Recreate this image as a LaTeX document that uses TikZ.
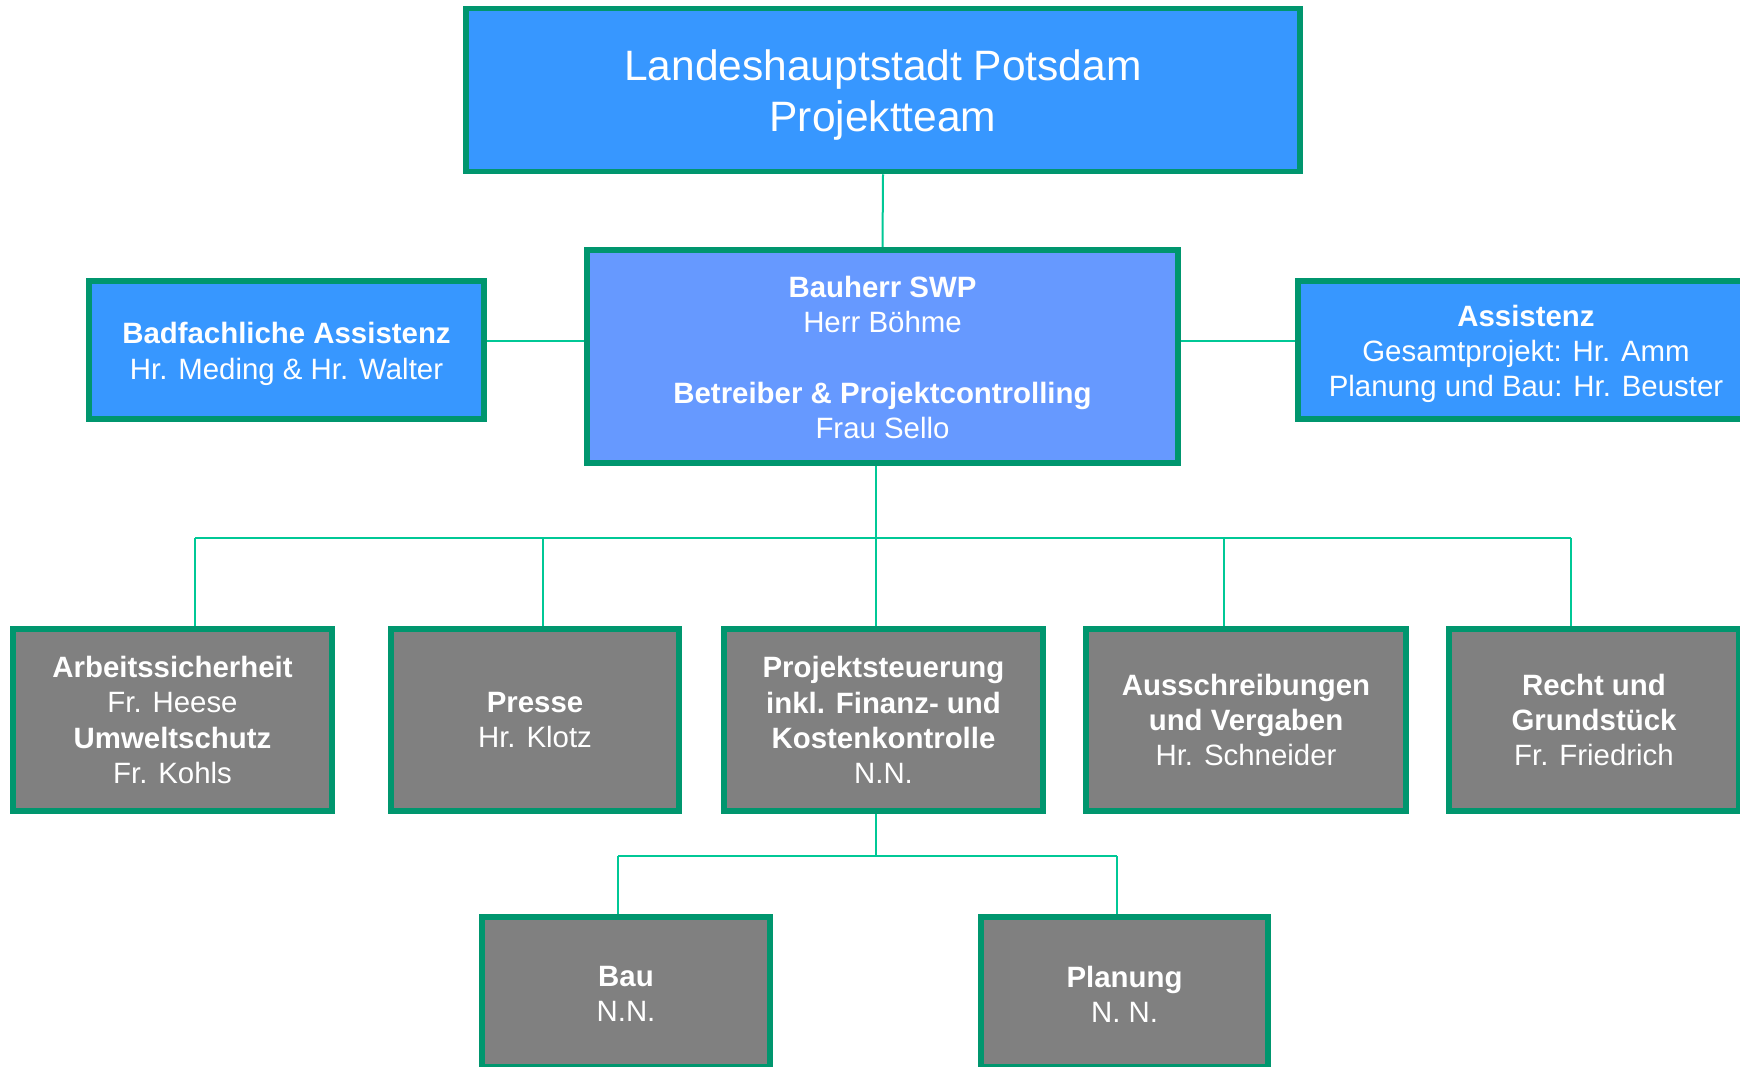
\documentclass[tikz,border=0pt]{standalone}
\usepackage{fontspec}
\setmainfont{Liberation Sans}
\usetikzlibrary{backgrounds}
\definecolor{bordergreen}{RGB}{0,150,110}
\definecolor{linegreen}{RGB}{0,200,150}
\definecolor{topblue}{RGB}{55,151,255}
\definecolor{midblue}{RGB}{102,153,255}
\definecolor{boxgrey}{RGB}{128,128,128}
\tikzset{
  txt/.style={text=white, align=center, inner sep=0pt, font=\fontsize{29.4}{35.3}\selectfont},
  orgbox/.style={txt, draw=bordergreen, line width=5.5pt},
  bluebox/.style={orgbox, fill=topblue},
  midbox/.style={orgbox, fill=midblue},
  greybox/.style={orgbox, fill=boxgrey},
  conn/.style={draw=linegreen, line width=2pt},
}
\begin{document}
\begin{tikzpicture}[x=1pt,y=-1pt]
\useasboundingbox (0,0) rectangle (1740,1066);
\clip (0,0) rectangle (1740,1066);

\node[bluebox, minimum width=834pt, minimum height=163pt] (top) at (883,90) {};
\node[txt, font=\fontsize{42.5}{51}\selectfont] (toptxt) at (883,95)
  {Landeshauptstadt Potsdam\\Projektteam};
\node[bluebox, minimum width=395pt, minimum height=138pt] (badf) at (286.5,350) {};
\node[txt] (badftxt) at (286.5,354)
  {\textbf{Badfachliche Assistenz}\\Hr. Meding \& Hr. Walter};
\node[midbox, minimum width=591pt, minimum height=213pt] (mid) at (882.5,356.5) {};
\node[txt] (midtxt) at (882.5,357.5)
  {\textbf{Bauherr SWP}\\Herr Böhme\\[35.3pt]\textbf{Betreiber \& Projektcontrolling}\\Frau Sello};
\node[bluebox, minimum width=456pt, minimum height=138pt] (assi) at (1526,350) {};
\node[txt] (assitxt) at (1526,354)
  {\textbf{Assistenz}\\Gesamtprojekt: Hr. Amm\\Planung und Bau: Hr. Beuster};

\node[greybox, minimum width=319pt, minimum height=182pt] (arb) at (172.5,720)
  {\textbf{Arbeitssicherheit}\\Fr. Heese\\\textbf{Umweltschutz}\\Fr. Kohls};
\node[greybox, minimum width=288pt, minimum height=182pt] (presse) at (535,720)
  {\textbf{Presse}\\Hr. Klotz};
\node[greybox, minimum width=319pt, minimum height=182pt] (proj) at (883.5,720)
  {\textbf{Projektsteuerung}\\\textbf{inkl. Finanz- und}\\\textbf{Kostenkontrolle}\\N.N.};
\node[greybox, minimum width=320pt, minimum height=182pt] (aus) at (1246,720)
  {\textbf{Ausschreibungen}\\\textbf{und Vergaben}\\Hr. Schneider};
\node[greybox, minimum width=290pt, minimum height=182pt] (recht) at (1594,720)
  {\textbf{Recht und}\\\textbf{Grundstück}\\Fr. Friedrich};

\node[greybox, minimum width=288pt, minimum height=150pt] (bau) at (626,992) {};
\node[txt] (bautxt) at (626,994) {\textbf{Bau}\\N.N.};
\node[greybox, minimum width=287pt, minimum height=150pt] (plan) at (1124.5,992) {};
\node[txt] (plantxt) at (1124.5,994) {\textbf{Planung}\\N. N.};

\coordinate (hl) at (0,341);
\coordinate (bus) at (876,538);
\coordinate (d1) at (195,538);
\coordinate (d2) at (543,538);
\coordinate (d4) at (1224,538);
\coordinate (d5) at (1571,538);
\coordinate (bus2) at (876,856);
\coordinate (e1) at (618,856);
\coordinate (e2) at (1117,856);

\begin{scope}[on background layer]
  \fill[white] (0,0) rectangle (1740,1066);
  \draw[conn] (top.south) -- (mid.north);
  \draw[conn] (badf.east |- hl) -- (mid.west |- hl);
  \draw[conn] (mid.east |- hl) -- (assi.west |- hl);
  \draw[conn] (bus |- mid.south) -- (bus);
  \draw[conn] (d1) -- (d5);
  \draw[conn] (d1) -- (d1 |- arb.north);
  \draw[conn] (d2) -- (d2 |- presse.north);
  \draw[conn] (bus) -- (bus |- proj.north);
  \draw[conn] (d4) -- (d4 |- aus.north);
  \draw[conn] (d5) -- (d5 |- recht.north);
  \draw[conn] (bus2 |- proj.south) -- (bus2);
  \draw[conn] (e1) -- (e2);
  \draw[conn] (e1) -- (e1 |- bau.north);
  \draw[conn] (e2) -- (e2 |- plan.north);
\end{scope}
\end{tikzpicture}
\end{document}
